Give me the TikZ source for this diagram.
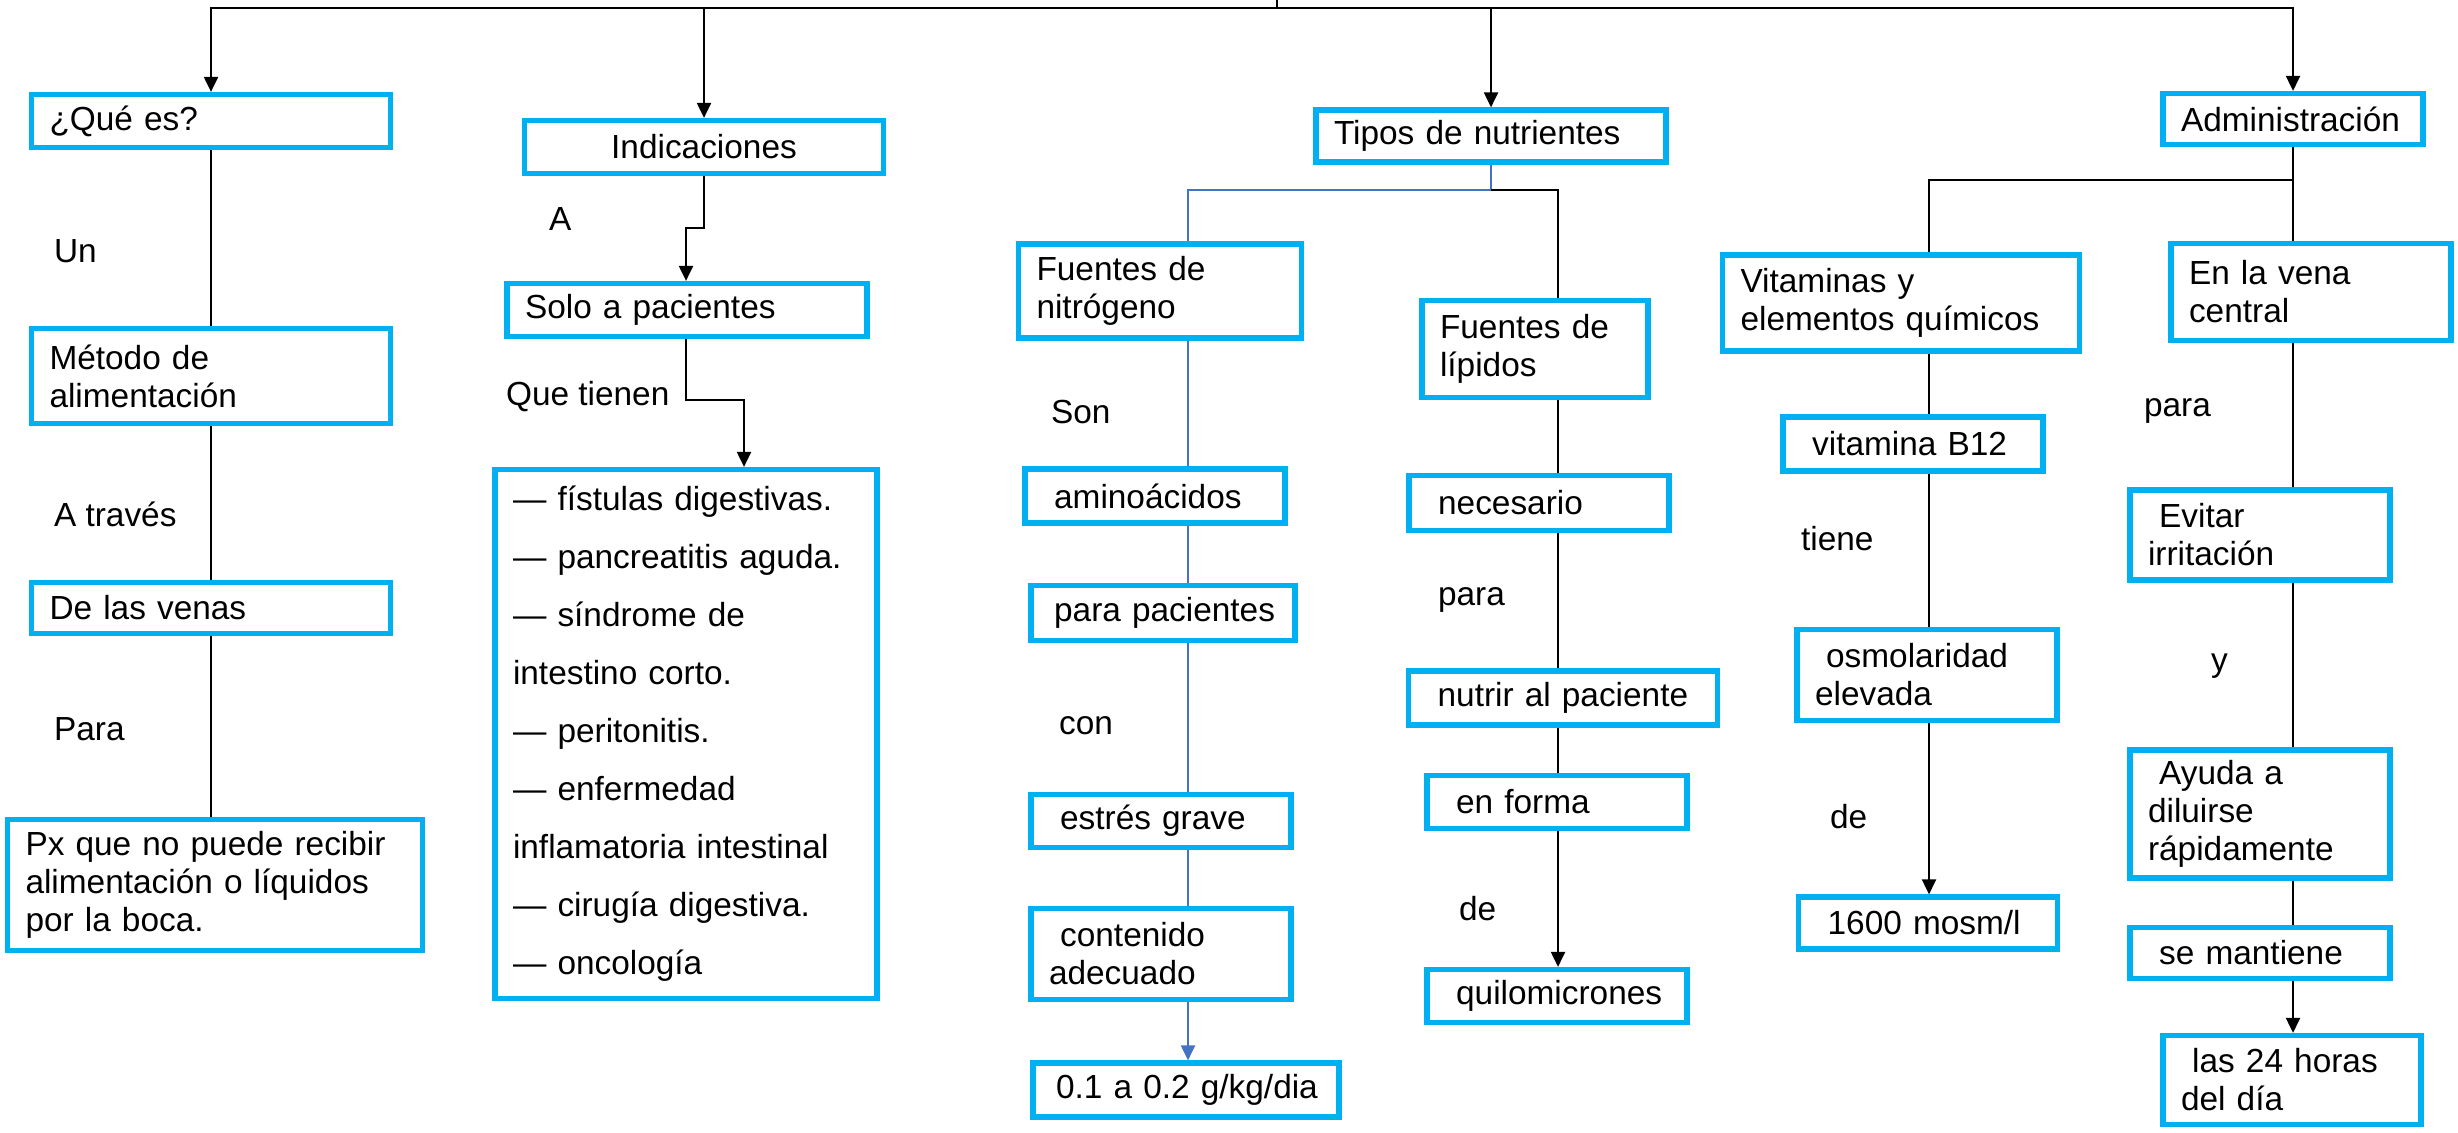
\documentclass[tikz,border=0pt]{standalone}
\usepackage{fontspec}
\setmainfont{Liberation Sans}
\usetikzlibrary{arrows.meta}

\definecolor{celeste}{RGB}{0,176,240}
\definecolor{azul}{RGB}{68,114,196}

\tikzset{
    caja/.style={draw=celeste, line width=1.5pt, align=left, inner xsep=1.8mm, inner ysep=0pt},
    texto/.style={anchor=west, inner sep=0pt},
    flecha/.style={-{Triangle[length=1.5mm,width=1.4mm]}},
}

\begin{document}
\begin{tikzpicture}[x=0.1mm, y=-0.1mm, line width=0.6pt, font=\fontsize{9.5pt}{10.8pt}\selectfont]
    \useasboundingbox (0,0) rectangle (2458,1132);

    \node[caja, text width=32.3mm, minimum height=5.3mm] (que) at (211,121) {¿Qué es?};
    \node[caja, text width=32.3mm, minimum height=5.3mm, align=center] (indic) at (704,147) {Indicaciones};
    \node[caja, text width=31.4mm, minimum height=5.2mm] (tipos) at (1491,136) {Tipos de nutrientes};
    \node[caja, text width=22.4mm, minimum height=5.1mm] (admin) at (2293,119) {Administración};

    \node[caja, text width=32.3mm, minimum height=9.5mm] (metodo) at (211,376) {Método de\\alimentación};
    \node[caja, text width=32.3mm, minimum height=5.1mm] (venas) at (211,608) {De las venas};
    \node[caja, text width=37.9mm, minimum height=13.1mm] (px) at (215,885) {Px que no puede recibir\\alimentación o líquidos\\por la boca.};

    \node[caja, text width=32.4mm, minimum height=5.3mm] (solo) at (687,310) {Solo a pacientes};
    \node[caja, text width=34.6mm, minimum height=52.9mm, font=\fontsize{9.5pt}{16.5pt}\selectfont] (lista) at (686,734)
        {— fístulas digestivas.\\— pancreatitis aguda.\\— síndrome de\\intestino corto.\\— peritonitis.\\— enfermedad\\inflamatoria intestinal\\— cirugía digestiva.\\— oncología};

    \node[caja, text width=24.7mm, minimum height=9.4mm] (nitro) at (1160,291) {Fuentes de\\nitrógeno};
    \node[caja, text width=22.4mm, minimum height=5.4mm] (amino) at (1155,496) {~aminoácidos};
    \node[caja, text width=24.0mm, inner xsep=1.2mm, minimum height=5.5mm] (parapac) at (1163,613) {~para pacientes};
    \node[caja, text width=22.4mm, minimum height=5.3mm] (estres) at (1161,821) {~estrés grave};
    \node[caja, text width=22.4mm, minimum height=9.1mm] (contenido) at (1161,954) {~contenido\\adecuado};
    \node[caja, text width=28.2mm, inner xsep=1.2mm, minimum height=5.4mm] (dosis) at (1186,1090) {~0.1 a 0.2 g/kg/dia};

    \node[caja, text width=19.0mm, minimum height=9.7mm] (lipidos) at (1535,349) {Fuentes de\\lípidos};
    \node[caja, text width=22.4mm, minimum height=5.5mm] (necesario) at (1539,503) {~necesario};
    \node[caja, text width=27.3mm, minimum height=5.4mm] (nutrir) at (1563,698) {~nutrir al paciente};
    \node[caja, text width=22.4mm, minimum height=5.3mm] (enforma) at (1557,802) {~en forma};
    \node[caja, text width=22.4mm, minimum height=5.3mm] (quilo) at (1557,996) {~quilomicrones};

    \node[caja, text width=32.1mm, minimum height=9.6mm] (vitam) at (1901,303) {Vitaminas y\\elementos químicos};
    \node[caja, text width=22.4mm, minimum height=5.4mm] (b12) at (1913,444) {~vitamina B12};
    \node[caja, text width=22.4mm, minimum height=9.1mm] (osmo) at (1927,675) {~osmolaridad\\elevada};
    \node[caja, text width=22.3mm, minimum height=5.2mm] (mosm) at (1928,923) {~1600 mosm/l};

    \node[caja, text width=24.4mm, minimum height=9.7mm] (vena) at (2311,292) {En la vena\\central};
    \node[caja, text width=22.4mm, minimum height=9.0mm] (evitar) at (2260,535) {~Evitar\\irritación};
    \node[caja, text width=22.4mm, minimum height=12.8mm] (ayuda) at (2260,814) {~Ayuda a\\diluirse\\rápidamente};
    \node[caja, text width=22.4mm, minimum height=5.1mm] (mantiene) at (2260,953) {~se mantiene};
    \node[caja, text width=22.2mm, minimum height=8.9mm] (horas) at (2292,1080) {~las 24 horas\\del día};

    \node[texto] (un) at (53,251) {Un};
    \node[texto] (atraves) at (53,514) {A través};
    \node[texto] (para1) at (53,729) {Para};
    \node[texto] (a) at (548,219) {A};
    \node[texto] (quetienen) at (505,397) {Que tienen};
    \node[texto] (son) at (1050,412) {Son};
    \node[texto] (con) at (1058,726) {con};
    \node[texto] (para2) at (1437,600) {para};
    \node[texto] (de1) at (1458,909) {de};
    \node[texto] (tiene) at (1800,539) {tiene};
    \node[texto] (de2) at (1829,817) {de};
    \node[texto] (para3) at (2143,411) {para};
    \node[texto] (y) at (2210,666) {y};

    \coordinate (raiz) at (1277,0);
    \coordinate (cruce) at (1277,8);
    \draw (raiz) -- (cruce);
    \draw[flecha] (cruce) -| (que);
    \draw[flecha] (cruce) -| (indic);
    \draw[flecha] (cruce) -| (tipos);
    \draw[flecha] (cruce) -| (admin);

    \draw (que) -- (metodo);
    \draw (metodo) -- (venas);
    \draw (venas.south) -- (venas.south |- px.north);

    \coordinate (codo1) at (686,228);
    \coordinate (codo2) at (744,400);
    \draw[flecha] (indic.south) |- (codo1) -- (codo1 |- solo.north);
    \draw[flecha] (solo.south -| codo1) |- (codo2) -- (codo2 |- lista.north);

    \coordinate (rama1) at (1491,190);
    \coordinate (gn) at (1188,0);
    \coordinate (gl) at (1558,0);
    \draw[azul] (tipos.south) -- (rama1) -| (nitro.north -| gn);
    \draw (rama1) -| (lipidos.north -| gl);
    \draw[azul] (nitro.south -| gn) -- (amino.north -| gn);
    \draw[azul] (amino.south -| gn) -- (parapac.north -| gn);
    \draw[azul] (parapac.south -| gn) -- (estres.north -| gn);
    \draw[azul] (estres.south -| gn) -- (contenido.north -| gn);
    \draw[azul, flecha] (contenido.south -| gn) -- (dosis.north -| gn);
    \draw (lipidos.south -| gl) -- (necesario.north -| gl);
    \draw (necesario.south -| gl) -- (nutrir.north -| gl);
    \draw (nutrir.south -| gl) -- (enforma.north -| gl);
    \draw[flecha] (enforma.south -| gl) -- (quilo.north -| gl);

    \coordinate (rama2) at (2293,180);
    \coordinate (gv) at (1929,0);
    \draw (admin.south) -- (rama2) -| (vitam.north -| gv);
    \draw (rama2) -- (rama2 |- vena.north);
    \draw (vitam.south -| gv) -- (b12.north -| gv);
    \draw (b12.south -| gv) -- (osmo.north -| gv);
    \draw[flecha] (osmo.south -| gv) -- (mosm.north -| gv);
    \draw (vena.south -| rama2) -- (evitar.north -| rama2);
    \draw (evitar.south -| rama2) -- (ayuda.north -| rama2);
    \draw (ayuda.south -| rama2) -- (mantiene.north -| rama2);
    \draw[flecha] (mantiene.south -| rama2) -- (horas.north -| rama2);
\end{tikzpicture}
\end{document}
